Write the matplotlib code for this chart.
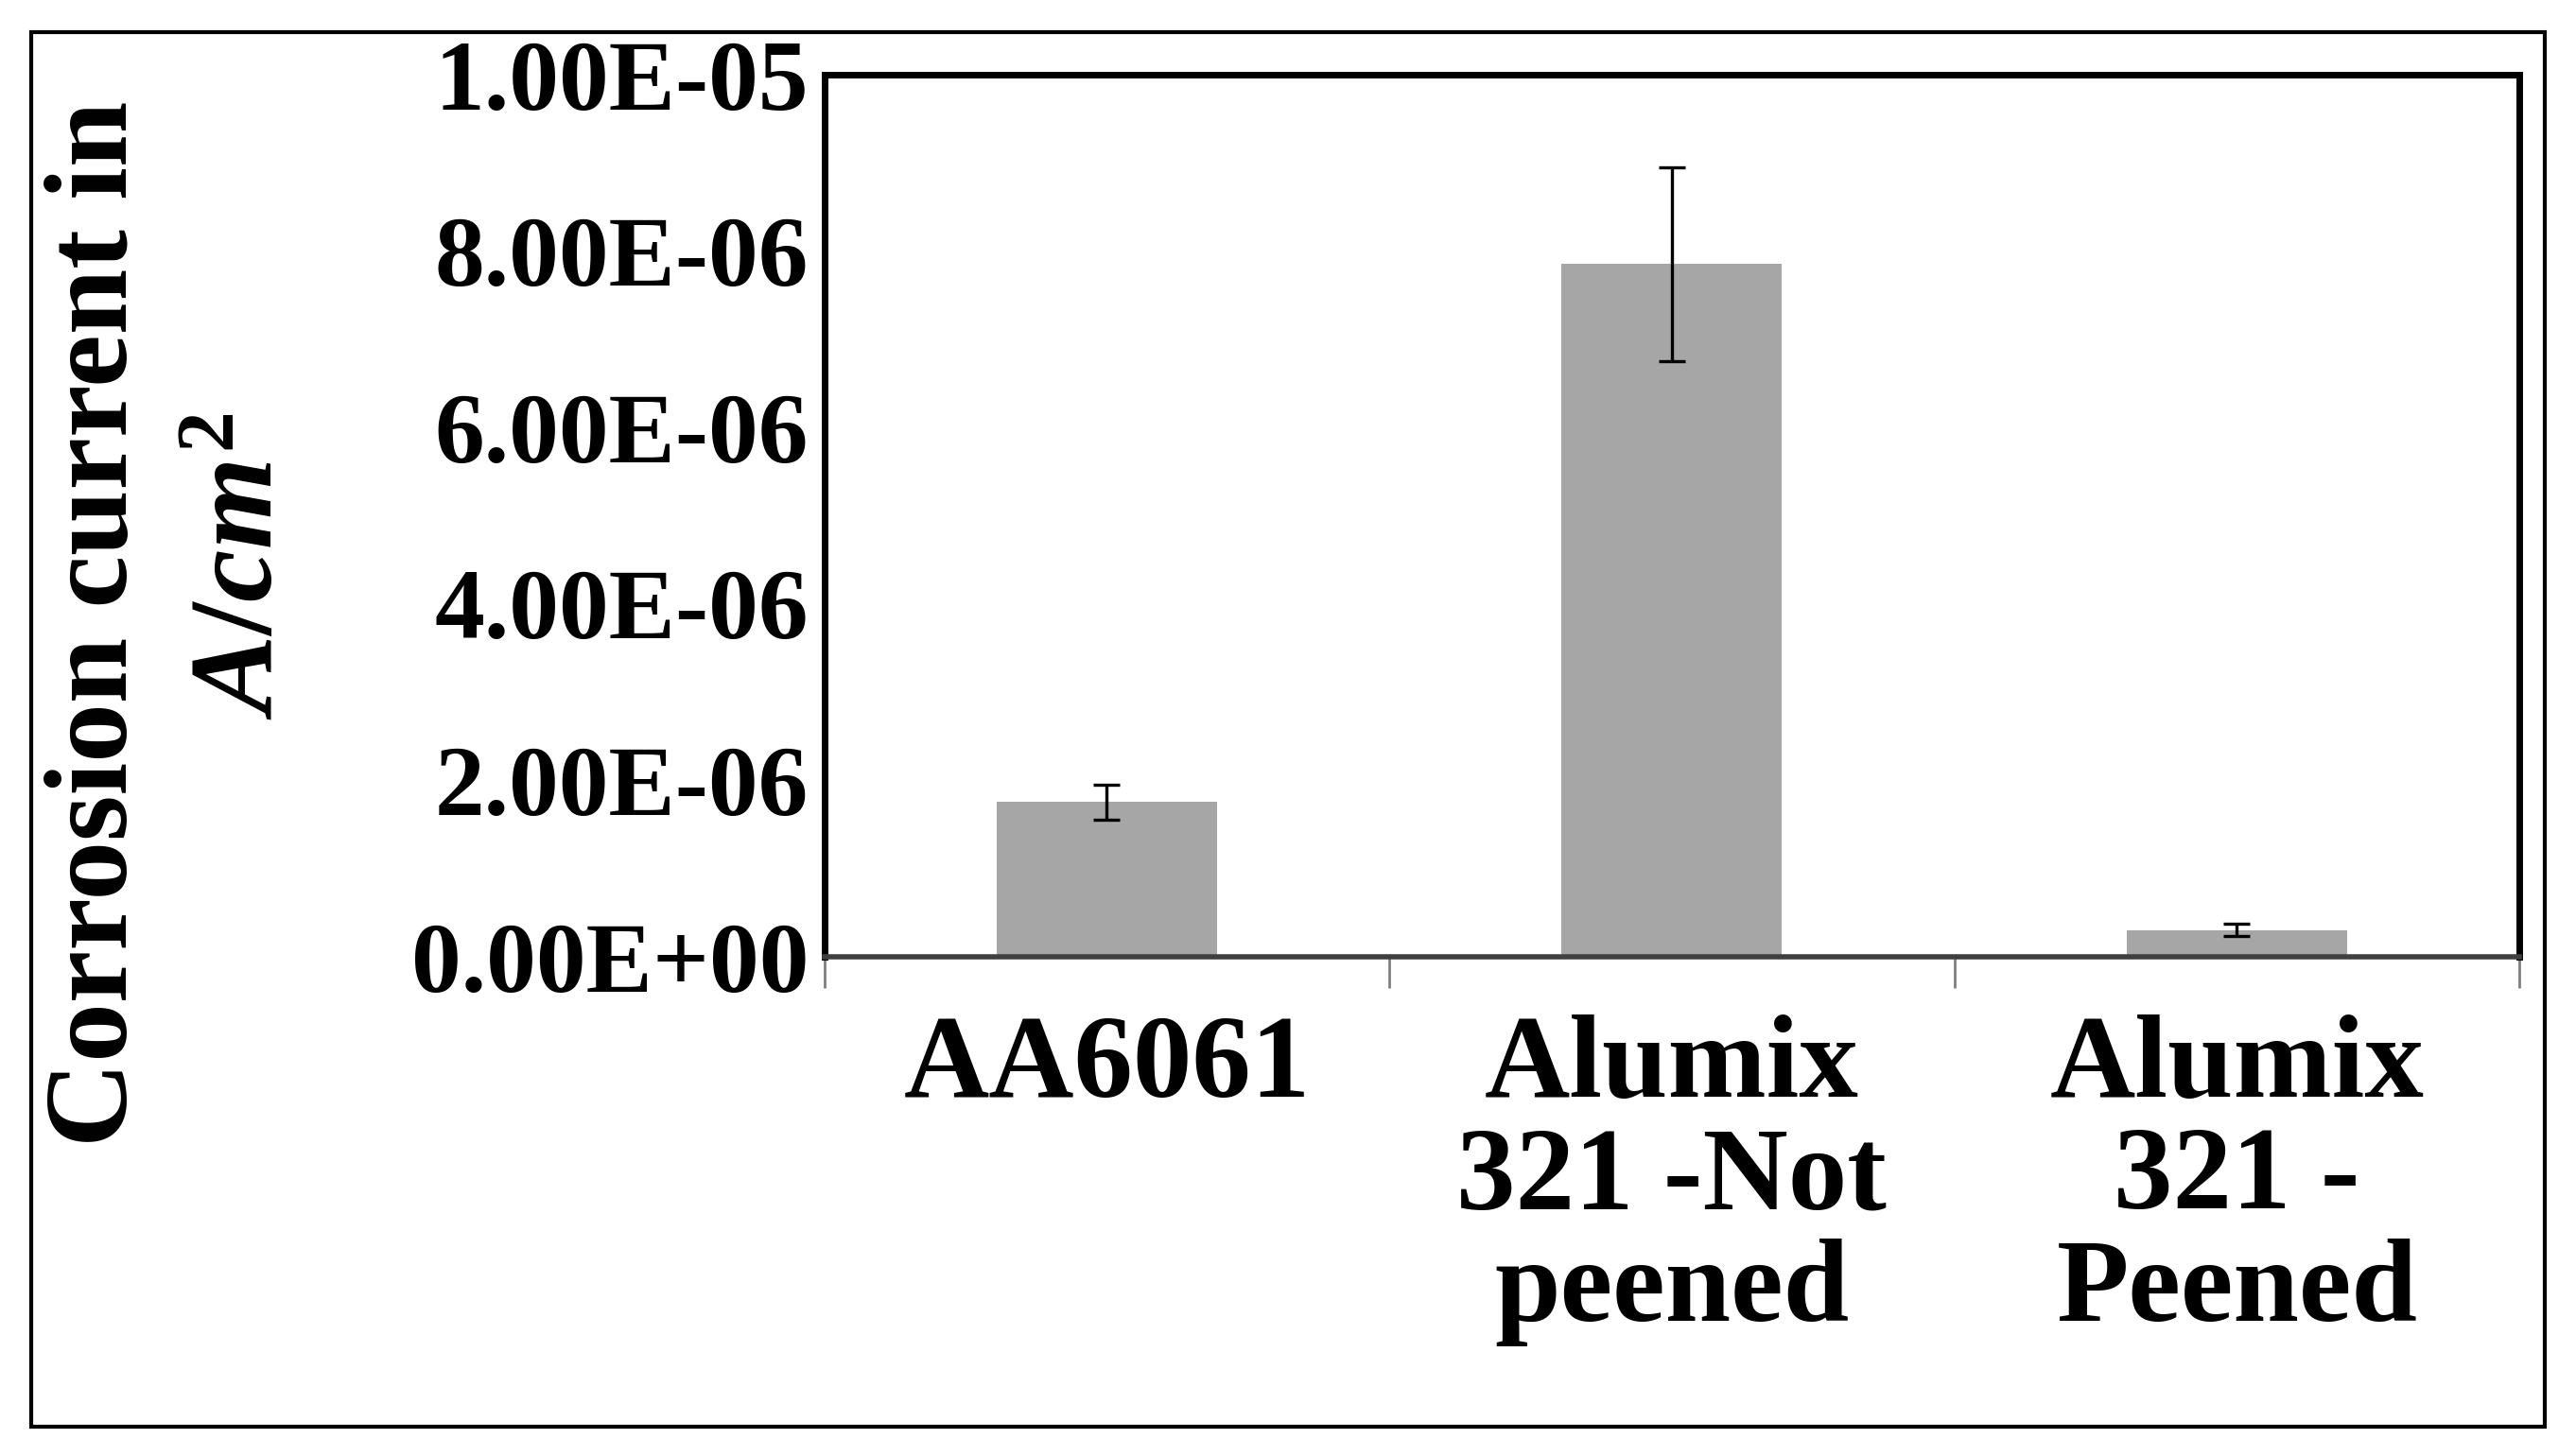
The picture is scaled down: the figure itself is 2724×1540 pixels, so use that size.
import matplotlib
matplotlib.use("Agg")
import matplotlib.pyplot as plt
from matplotlib.patches import Rectangle

categories = ["AA6061", "Alumix\n321 -Not\npeened", "Alumix\n321 -\nPeened"]
values = [1.75e-6, 7.85e-6, 0.30e-6]
errors = [0.20e-6, 1.10e-6, 0.07e-6]
yticks = [0, 2e-6, 4e-6, 6e-6, 8e-6, 1e-5]
yticklabels = ["0.00E+00", "2.00E-06", "4.00E-06", "6.00E-06", "8.00E-06", "1.00E-05"]

plt.rcParams['font.family'] = ['Liberation Serif', 'DejaVu Serif']
plt.rcParams['font.weight'] = 'bold'
plt.rcParams['mathtext.fontset'] = 'custom'
plt.rcParams['mathtext.rm'] = 'Liberation Serif:bold'
plt.rcParams['mathtext.it'] = 'Liberation Serif:italic:bold'

fig = plt.figure(figsize=(13.62, 7.70), dpi=200)
fig.patches.append(Rectangle((0.012, 0.02), 0.976, 0.958, transform=fig.transFigure,
                             fill=False, edgecolor='black', linewidth=1.5))
ax = fig.add_axes([0.320, 0.343, 0.658, 0.606])
x = list(range(len(categories)))
ax.bar(x, values, width=0.39, color='#a6a6a6', zorder=2)
ax.errorbar(x, values, yerr=errors, fmt='none', ecolor='black', elinewidth=1.2,
            capsize=5, capthick=1.2, zorder=3)
ax.set_xlim(-0.5, 2.5)
ax.set_ylim(0, 1e-5)
ax.set_yticks(yticks)
ax.set_yticklabels(yticklabels, fontsize=38, fontweight='bold')
ax.set_xticks(x)
ax.set_xticklabels(categories, fontsize=45, fontweight='bold', linespacing=1.05)
ax.tick_params(axis='x', length=0, pad=22)
ax.set_xticks([-0.5, 0.5, 1.5, 2.5], minor=True)
ax.tick_params(axis='x', which='minor', length=12, width=1, color='#808080', direction='out')
ax.tick_params(axis='y', length=0, pad=6)
for s in ['top', 'right', 'left']:
    ax.spines[s].set_linewidth(2.5)
ax.spines['bottom'].set_linewidth(2)
ax.spines['bottom'].set_color('#404040')
fig.text(60/1568, 1-377/880, "Corrosion current in", rotation=90, fontsize=45,
         fontweight='bold', ha='center', va='center')
fig.text(148/1568, 1-342/880, "$\\mathit{A/cm}^{\\mathrm{2}}$", rotation=90, fontsize=45,
         ha='center', va='center')
fig.savefig("out.png", dpi=200)
